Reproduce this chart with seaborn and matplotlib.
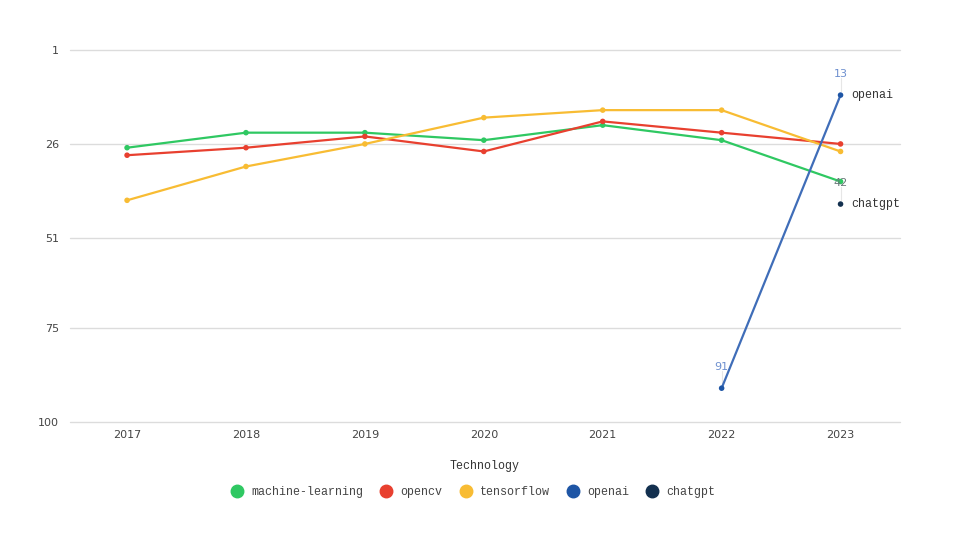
import seaborn as sns
import matplotlib.pyplot as plt
import pandas as pd
import numpy as np

years = ['2017', '2018', '2019', '2020', '2021', '2022', '2023']
machine_learning = [27, 23, 23, 25, 21, 25, 36]
opencv = [29, 27, 24, 28, 20, 23, 26]
tensorflow = [41, 32, 26, 19, 17, 17, 28]
openai = [None, None, None, None, None, 91, 13]
chatgpt = [None, None, None, None, None, None, 42]

series = {
    'machine-learning': machine_learning,
    'opencv': opencv,
    'tensorflow': tensorflow,
    'openai': openai,
    'chatgpt': chatgpt,
}
colors = {
    'machine-learning': '#2fc862',
    'opencv': '#e8402f',
    'tensorflow': '#f8bc33',
    'openai': '#1e55a5',
    'chatgpt': '#13304f',
}
line_colors = dict(colors)
line_colors['openai'] = '#3f6db8'

rows = []
for name, vals in series.items():
    for i, v in enumerate(vals):
        if v is not None:
            rows.append({'tech': name, 'x': i, 'rank': v})
df = pd.DataFrame(rows)

sns.set_theme(style='white')
mono = ['Liberation Mono', 'DejaVu Sans Mono']

fig = plt.figure(figsize=(9.6, 5.4), dpi=100)
ax = fig.add_axes([0.0729, 0.2185, 0.8646, 0.6889])

for y in [1, 26, 51, 75, 100]:
    ax.axhline(y, color='#dcdcdc', lw=1, zorder=0, clip_on=False)

sns.lineplot(data=df, x='x', y='rank', hue='tech', palette=line_colors,
             lw=1.6, legend=False, ax=ax, zorder=2)
sns.scatterplot(data=df, x='x', y='rank', hue='tech', palette=colors,
                s=16, edgecolor='none', legend=False, ax=ax, zorder=3)

# end labels
ax.text(6 + 0.09, 13, 'openai', family=mono, fontsize=8.4, color='#333333', va='center')
ax.text(6 + 0.09, 42, 'chatgpt', family=mono, fontsize=8.4, color='#333333', va='center')

# value labels
for xi, yi, txt, col in [(6, 13, '13', '#6d8fcf'), (5, 91, '91', '#6d8fcf'), (6, 42, '42', '#667777')]:
    ax.plot([xi, xi], [yi - 1.2, yi - 4.5], color='#e6e6e6', lw=0.8, zorder=1)
    ax.text(xi, yi - 4.4, txt, ha='center', va='bottom', fontsize=8, color=col)

ax.set_ylim(100, 1)
ax.set_xlim(-0.48, 6.5)
ax.set_yticks([1, 26, 51, 75, 100])
ax.set_xticks(range(len(years)))
ax.set_xticklabels(years)
ax.tick_params(axis='both', labelsize=8, colors='#444444', length=0)
ax.tick_params(axis='y', pad=8)
ax.tick_params(axis='x', pad=6)
ax.set_ylabel('')
ax.set_xlabel('Technology', family=mono, fontsize=8.4, color='#333333', labelpad=14)
for s in ax.spines.values():
    s.set_visible(False)

handles = [plt.Line2D([], [], marker='o', ls='', ms=9, color=colors[n]) for n in series]
leg = fig.legend(handles, list(series.keys()), loc='center', bbox_to_anchor=(0.49, 0.088),
                 ncol=5, frameon=False, prop={'family': mono, 'size': 8.4},
                 handletextpad=0.2, columnspacing=1.0)
for t in leg.get_texts():
    t.set_color('#444444')

fig.savefig('out.png', dpi=100)
